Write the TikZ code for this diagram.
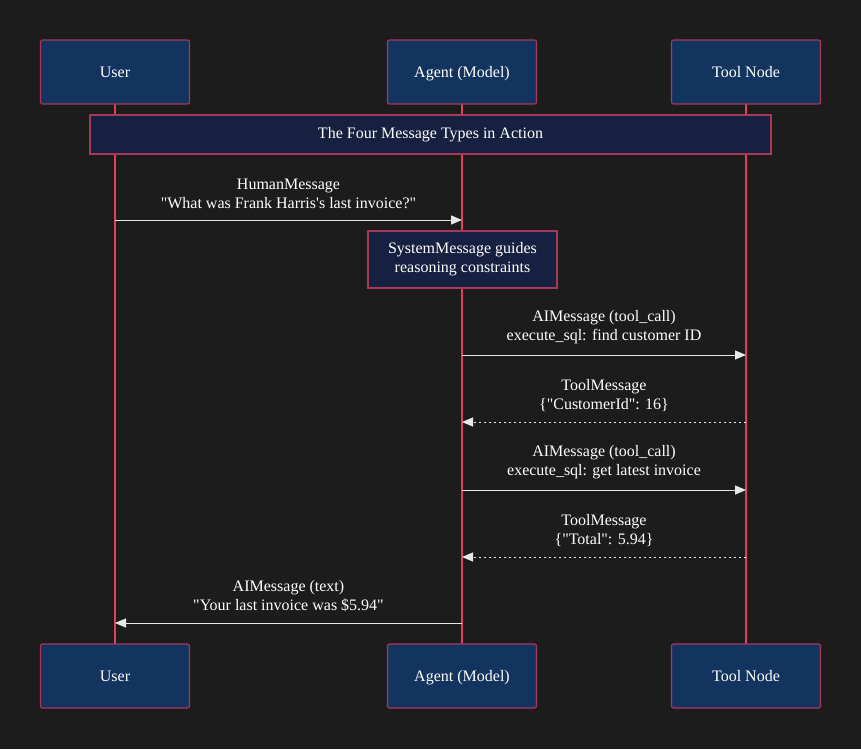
\documentclass[tikz,border=0pt]{standalone}
\usepackage{fontspec}
\setmainfont{Liberation Serif}
\usetikzlibrary{arrows.meta}
\definecolor{bg}{HTML}{1C1C1C}
\definecolor{actor}{HTML}{143460}
\definecolor{note}{HTML}{162040}
\definecolor{bord}{HTML}{A8385A}
\definecolor{life}{HTML}{E0405E}
\definecolor{arr}{HTML}{E8E8E8}
\newcommand{\q}{\textquotedbl}
\begin{document}
\begin{tikzpicture}[x=1pt,y=-1pt,
  every node/.style={font=\fontsize{16}{19}\selectfont, text=white, align=center},
  actorbox/.style={draw=bord, fill=actor, line width=1.2pt, rounded corners=2pt, minimum width=149pt, minimum height=64pt, text height=12.5pt, text depth=1.5pt},
  notebox/.style={draw=bord, fill=note, line width=1.2pt},
  lifeline/.style={draw=life, line width=1.2pt},
  msg/.style={draw=arr, line width=1pt, -{Triangle[length=11pt,width=9pt]}},
  reply/.style={msg, dash pattern=on 2.5pt off 2.5pt},
  lbl/.style={font=\fontsize{16}{19}\selectfont}]
\fill[bg] (0,0) rectangle (861,749);
\coordinate (u1) at (115,104); \coordinate (u2) at (115,644);
\coordinate (a1) at (462,104); \coordinate (a2) at (462,644);
\coordinate (t1) at (746,104); \coordinate (t2) at (746,644);
\draw[lifeline] (u1)--(u2); \draw[lifeline] (a1)--(a2); \draw[lifeline] (t1)--(t2);
\node[actorbox] (U) at (115,72) {User};
\node[actorbox] (A) at (462,72) {Agent (Model)};
\node[actorbox] (T) at (746,72) {Tool Node};
\node[actorbox] (Ub) at (115,676) {User};
\node[actorbox] (Ab) at (462,676) {Agent (Model)};
\node[actorbox] (Tb) at (746,676) {Tool Node};
\node[notebox, minimum width=681pt, minimum height=39pt] (N) at (430.5,134.5) {The Four Message Types in Action};
\node[notebox, minimum width=189pt, minimum height=57pt] (S) at (462.5,259.5) {SystemMessage guides\\reasoning constraints};
\coordinate (m1u) at (115,220); \coordinate (m1a) at (462,220);
\draw[msg] (m1u)--(m1a) node[lbl,midway,above=7pt] {HumanMessage\\\q What was Frank Harris\textquotesingle s last invoice?\q};
\coordinate (m2a) at (462,355); \coordinate (m2t) at (746,355);
\draw[msg] (m2a)--(m2t) node[lbl,midway,above=7pt] {AIMessage (tool\_call)\\execute\_sql: find customer ID};
\coordinate (m3t) at (746,422); \coordinate (m3a) at (462,422);
\draw[reply] (m3t)--(m3a) node[lbl,midway,above=7pt] {ToolMessage\\\{\q CustomerId\q: 16\}};
\coordinate (m4a) at (462,490); \coordinate (m4t) at (746,490);
\draw[msg] (m4a)--(m4t) node[lbl,midway,above=7pt] {AIMessage (tool\_call)\\execute\_sql: get latest invoice};
\coordinate (m5t) at (746,557); \coordinate (m5a) at (462,557);
\draw[reply] (m5t)--(m5a) node[lbl,midway,above=7pt] {ToolMessage\\\{\q Total\q: 5.94\}};
\coordinate (m6a) at (462,623); \coordinate (m6u) at (115,623);
\draw[msg] (m6a)--(m6u) node[lbl,midway,above=7pt] {AIMessage (text)\\\q Your last invoice was \$5.94\q};
\end{tikzpicture}
\end{document}
